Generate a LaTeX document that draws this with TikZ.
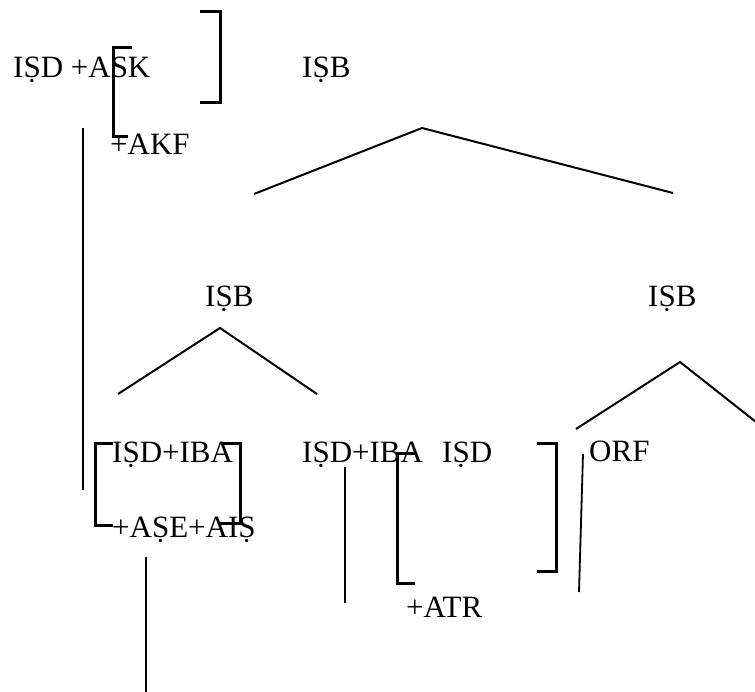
\documentclass[tikz,border=0pt]{standalone}
\usepackage{fontspec}
\setmainfont{Liberation Serif}
\begin{document}
\begin{tikzpicture}[x=1pt,y=-1pt,
		lbl/.style={anchor=base west,inner sep=0pt,font=\fontsize{31}{36}\selectfont},
		branch/.style={line width=2pt},
		brack/.style={line width=3pt},
		stem/.style={line width=1.8pt}]
	\useasboundingbox (0,0) rectangle (755,692);
	% Labels
	\node[lbl] (isdask) at (13,78) {IṢD +ASK};
	\node[lbl] (isbtop) at (302,78) {IṢB};
	\node[lbl] (akf) at (110,155) {+AKF};
	\node[lbl] (isbl) at (205,307) {IṢB};
	\node[lbl] (isbr) at (648,307) {IṢB};
	\node[lbl] (ibaone) at (112,462) {IṢD+IBA};
	\node[lbl] (ibatwo) at (302,462) {IṢD+IBA};
	\node[lbl] (isd) at (442,462) {IṢD};
	\node[lbl] (orf) at (589,461) {ORF};
	\node[lbl] (ase) at (112,537) {+AṢE+AIṢ};
	\node[lbl] (atr) at (406,617) {+ATR};
	% Branches
	\coordinate (top) at (422,128);
	\coordinate (topl) at (254,194);
	\coordinate (topr) at (673,193);
	\coordinate (lt) at (220,328);
	\coordinate (ltl) at (118,394);
	\coordinate (ltr) at (317,394);
	\coordinate (rt) at (680,362);
	\coordinate (rtl) at (576,429);
	\coordinate (rtr) at (756,422);
	\draw[branch] (topl) -- (top) -- (topr);
	\draw[branch] (ltl) -- (lt) -- (ltr);
	\draw[branch] (rtl) -- (rt) -- (rtr);
	% Brackets
	\draw[brack] (200,12) -- (220,12) -- (220,103) -- (200,103);
	\draw[brack] (132,48) -- (113,48) -- (113,137) -- (128,137);
	\draw[brack] (113,443) -- (95,443) -- (95,525) -- (113,525);
	\draw[brack] (223,443) -- (240,443) -- (240,523) -- (220,523);
	\draw[brack] (415,453) -- (397,453) -- (397,583) -- (415,583);
	\draw[brack] (537,443) -- (556,443) -- (556,571) -- (537,571);
	% Stems
	\coordinate (sa) at (83,128);
	\coordinate (sb) at (83,490);
	\coordinate (sc) at (146,557);
	\coordinate (sd) at (146,693);
	\coordinate (se) at (345,467);
	\coordinate (sf) at (345,603);
	\coordinate (sg) at (583,454);
	\coordinate (sh) at (579,592);
	\draw[stem] (sa) -- (sb);
	\draw[stem] (sc) -- (sd);
	\draw[stem] (se) -- (sf);
	\draw[stem] (sg) -- (sh);
\end{tikzpicture}
\end{document}
